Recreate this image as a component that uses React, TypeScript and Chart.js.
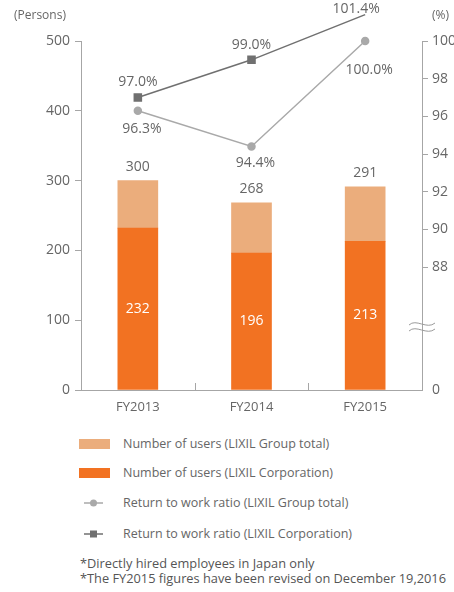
import React, { useEffect, useRef } from "react";
import { Chart, registerables } from "chart.js";

Chart.register(...registerables);

// ---- data ----
const categories = ["FY2013", "FY2014", "FY2015"];
const groupUsers = [300, 268, 291];
const corpUsers = [232, 196, 213];
const groupRatio = [96.3, 94.4, 100.0];
const corpRatio = [97.0, 99.0, 101.4];
const personTicks = [0, 100, 200, 300, 400, 500];
const ratioTicks = [88, 90, 92, 94, 96, 98, 100];

// ---- styling ----
const FONT = "'Open Sans', 'Liberation Sans', Arial, sans-serif";
const TEXT = "#666666";
const AXIS = "#a6a6a6";
const ORANGE_LIGHT = "#ebad7c";
const ORANGE_DARK = "#f27222";
const GRAY_LIGHT = "#a9a9a9";
const GRAY_DARK = "#707070";
// lower bound of the broken percent axis, so that 88..100 share the upper part
const RATIO_MIN = 81.47;

const annotate = {
  id: "annotate",
  afterDraw(chart: any) {
    const { ctx, chartArea, scales } = chart;
    ctx.save();

    // unit captions
    ctx.font = `12px ${FONT}`;
    ctx.fillStyle = TEXT;
    ctx.textBaseline = "middle";
    ctx.textAlign = "left";
    ctx.fillText("(Persons)", 14, 16);
    ctx.fillText("(%)", 432, 16);

    // small upward ticks between categories
    const x = scales.x;
    ctx.strokeStyle = AXIS;
    ctx.lineWidth = 1;
    for (let i = 0; i < categories.length - 1; i++) {
      const px = Math.round((x.getPixelForValue(i) + x.getPixelForValue(i + 1)) / 2) + 0.5;
      ctx.beginPath();
      ctx.moveTo(px, chartArea.bottom);
      ctx.lineTo(px, chartArea.bottom - 7);
      ctx.stroke();
    }

    // axis break mark on the percent axis
    const bx = chartArea.right;
    const by = 327;
    ctx.strokeStyle = "#9a9a9a";
    ctx.lineWidth = 1;
    [-3, 3].forEach((dy) => {
      const y = by + dy;
      ctx.beginPath();
      ctx.moveTo(bx - 13, y + 1);
      ctx.bezierCurveTo(bx - 6, y - 6, bx + 5, y + 6, bx + 13, y - 1);
      ctx.stroke();
    });

    // bar value labels
    ctx.textAlign = "center";
    ctx.font = `14px ${FONT}`;
    const corpMeta = chart.getDatasetMeta(0);
    const restMeta = chart.getDatasetMeta(1);
    corpMeta.data.forEach((bar: any, i: number) => {
      ctx.fillStyle = "#ffffff";
      ctx.fillText(String(corpUsers[i]), bar.x, (bar.y + bar.base) / 2);
    });
    restMeta.data.forEach((bar: any, i: number) => {
      ctx.fillStyle = TEXT;
      ctx.fillText(String(groupUsers[i]), bar.x, bar.y - 14);
    });

    // ratio labels
    ctx.fillStyle = TEXT;
    const groupMeta = chart.getDatasetMeta(2);
    const belowGap = [18, 17, 29];
    groupMeta.data.forEach((pt: any, i: number) => {
      ctx.fillText(groupRatio[i].toFixed(1) + "%", pt.x + 4, pt.y + belowGap[i]);
    });
    const corpMeta2 = chart.getDatasetMeta(3);
    corpMeta2.data.forEach((pt: any, i: number) => {
      const above = pt.y - 15;
      if (above < 9) {
        // no room above the plot: tuck the label just over the marker, nudged left
        ctx.fillText(corpRatio[i].toFixed(1) + "%", pt.x - 9, 9);
      } else {
        ctx.fillText(corpRatio[i].toFixed(1) + "%", pt.x, above);
      }
    });

    ctx.restore();
  },
};

function LegendRow({ top, children, label }: { top: number; children: React.ReactNode; label: string }) {
  return (
    <div style={{ position: "absolute", left: 0, top: top - 10, height: 20, width: 454 }}>
      <div style={{ position: "absolute", left: 76, top: 0, width: 40, height: 20 }}>{children}</div>
      <div
        style={{
          position: "absolute",
          left: 123,
          top: 0,
          height: 20,
          lineHeight: "20px",
          fontSize: 12.5,
          color: TEXT,
          whiteSpace: "nowrap",
        }}
      >
        {label}
      </div>
    </div>
  );
}

export default function App() {
  const canvasRef = useRef<HTMLCanvasElement | null>(null);

  useEffect(() => {
    if (!canvasRef.current) return;
    Chart.defaults.font.family = FONT;
    const chart = new Chart(canvasRef.current, {
      type: "bar",
      data: {
        labels: categories,
        datasets: [
          {
            type: "bar",
            label: "Number of users (LIXIL Corporation)",
            data: corpUsers,
            backgroundColor: ORANGE_DARK,
            stack: "users",
            yAxisID: "y",
            barThickness: 40,
            order: 3,
          },
          {
            type: "bar",
            label: "Number of users (LIXIL Group total)",
            data: groupUsers.map((v, i) => v - corpUsers[i]),
            backgroundColor: ORANGE_LIGHT,
            stack: "users",
            yAxisID: "y",
            barThickness: 40,
            order: 3,
          },
          {
            type: "line",
            label: "Return to work ratio (LIXIL Group total)",
            data: groupRatio,
            yAxisID: "y1",
            borderColor: GRAY_LIGHT,
            backgroundColor: GRAY_LIGHT,
            borderWidth: 1.5,
            pointStyle: "circle",
            pointRadius: 3.5,
            tension: 0,
            clip: false as any,
            order: 2,
          },
          {
            type: "line",
            label: "Return to work ratio (LIXIL Corporation)",
            data: corpRatio,
            yAxisID: "y1",
            borderColor: GRAY_DARK,
            backgroundColor: GRAY_DARK,
            borderWidth: 1.5,
            pointStyle: "rect",
            pointRadius: 5,
            tension: 0,
            clip: false as any,
            order: 1,
          },
        ] as any,
      },
      options: {
        responsive: false,
        animation: false,
        layout: { padding: { top: 41, left: 0, right: 0, bottom: 0 } },
        plugins: { legend: { display: false }, tooltip: { enabled: false } },
        scales: {
          x: {
            stacked: true,
            grid: { display: false, drawTicks: false },
            border: { display: true, color: AXIS },
            ticks: { color: TEXT, font: { size: 13 }, padding: 9 },
            afterFit: (s: any) => {
              s.height = 30;
            },
          },
          y: {
            stacked: true,
            position: "left",
            min: 0,
            max: 500,
            afterBuildTicks: (s: any) => {
              s.ticks = personTicks.map((v) => ({ value: v }));
            },
            grid: { drawOnChartArea: false, drawTicks: true, tickLength: 6, color: AXIS },
            border: { display: true, color: AXIS },
            ticks: { color: TEXT, font: { size: 14 }, padding: 5 },
            afterFit: (s: any) => {
              s.width = 81;
            },
          },
          y1: {
            position: "right",
            min: RATIO_MIN,
            max: 100,
            afterBuildTicks: (s: any) => {
              s.ticks = [{ value: RATIO_MIN }, ...ratioTicks.map((v) => ({ value: v }))];
            },
            grid: {
              drawOnChartArea: false,
              drawTicks: true,
              tickLength: 6,
              color: (c: any) => (c.tick && c.tick.value < 88 ? "rgba(0,0,0,0)" : AXIS),
            },
            border: { display: true, color: AXIS },
            ticks: {
              color: TEXT,
              font: { size: 14 },
              padding: 4,
              callback: (v: any) => (Number(v) < 88 ? "0" : String(v)),
            },
            afterFit: (s: any) => {
              s.width = 32;
            },
          },
        },
      } as any,
      plugins: [annotate],
    });
    return () => chart.destroy();
  }, []);

  return (
    <div
      style={{
        position: "absolute",
        left: 0,
        top: 0,
        width: 454,
        height: 592,
        fontFamily: FONT,
        background: "#ffffff",
        overflow: "hidden",
      }}
    >
      <canvas ref={canvasRef} width={454} height={420} style={{ display: "block" }} />

      <LegendRow top={444} label="Number of users (LIXIL Group total)">
        <div style={{ position: "absolute", left: 3, top: 5, width: 31, height: 10, background: ORANGE_LIGHT }} />
      </LegendRow>
      <LegendRow top={473} label="Number of users (LIXIL Corporation)">
        <div style={{ position: "absolute", left: 3, top: 5, width: 31, height: 10, background: ORANGE_DARK }} />
      </LegendRow>
      <LegendRow top={503} label="Return to work ratio (LIXIL Group total)">
        <svg width={40} height={20} style={{ position: "absolute", left: 0, top: 0 }}>
          <line x1={8} y1={10} x2={27} y2={10} stroke={GRAY_LIGHT} strokeWidth={1.5} />
          <circle cx={17.5} cy={10} r={3.5} fill={GRAY_LIGHT} />
        </svg>
      </LegendRow>
      <LegendRow top={534} label="Return to work ratio (LIXIL Corporation)">
        <svg width={40} height={20} style={{ position: "absolute", left: 0, top: 0 }}>
          <line x1={8} y1={10} x2={27} y2={10} stroke={GRAY_DARK} strokeWidth={1.5} />
          <rect x={14} y={6.5} width={7} height={7} fill={GRAY_DARK} />
        </svg>
      </LegendRow>

      <div
        style={{
          position: "absolute",
          left: 80,
          top: 556,
          fontSize: 12.8,
          lineHeight: "14.5px",
          color: "#555555",
          whiteSpace: "nowrap",
        }}
      >
        <div>*Directly hired employees in Japan only</div>
        <div>*The FY2015 figures have been revised on December 19,2016</div>
      </div>
    </div>
  );
}
